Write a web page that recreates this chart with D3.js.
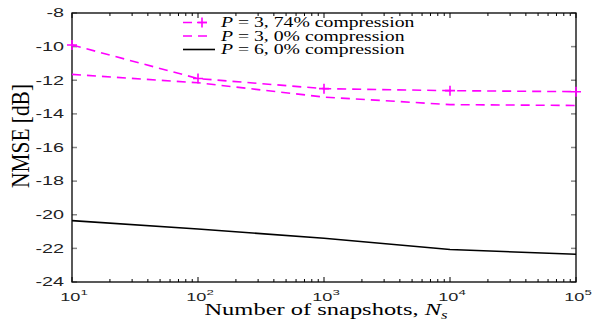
<!DOCTYPE html>
<html>
<head>
<meta charset="utf-8">
<script src="https://cdn.jsdelivr.net/npm/d3@7"></script>
<style>
body { margin: 0; background: #fff; }
</style>
</head>
<body>
<div id="chart"></div>
<script>
// data
var snapshots = [10, 100, 1000, 10000, 100000];
var p3comp = [-9.9, -11.9, -12.5, -12.62, -12.68];
var p3none = [-11.65, -12.15, -13.0, -13.45, -13.5];
var p6none = [-20.35, -20.85, -21.4, -22.07, -22.35];
var yTicks = [-8, -10, -12, -14, -16, -18, -20, -22, -24];
var legendLabels = ["3, 74% compression", "3, 0% compression", "6, 0% compression"];

var W = 602, H = 324;
var m = {left: 72, right: 26, top: 13, bottom: 42};
var sans = "Liberation Sans, Arial, sans-serif";
var serif = "Liberation Serif, Times New Roman, serif";

var svg = d3.select("#chart").append("svg").attr("width", W).attr("height", H);

var x = d3.scaleLog().domain([10, 100000]).range([m.left, W - m.right]);
var y = d3.scaleLinear().domain([-24, -8]).range([H - m.bottom, m.top]);

var x0 = m.left, x1 = W - m.right, y0 = H - m.bottom, y1 = m.top;

// minor + major x ticks, top and bottom, pointing inward
var minor = [];
for (var e = 1; e < 5; e++) {
	for (var k = 2; k < 10; k++) minor.push(k * Math.pow(10, e));
}
var g = svg.append("g");
minor.forEach(function(v) {
	g.append("line").attr("x1", x(v)).attr("x2", x(v)).attr("y1", y0).attr("y2", y0 - 3).attr("stroke", "#000");
	g.append("line").attr("x1", x(v)).attr("x2", x(v)).attr("y1", y1).attr("y2", y1 + 3).attr("stroke", "#000");
});
snapshots.forEach(function(v) {
	g.append("line").attr("x1", x(v)).attr("x2", x(v)).attr("y1", y0).attr("y2", y0 - 5).attr("stroke", "#000");
	g.append("line").attr("x1", x(v)).attr("x2", x(v)).attr("y1", y1).attr("y2", y1 + 5).attr("stroke", "#000");
});
yTicks.forEach(function(v) {
	g.append("line").attr("x1", x0).attr("x2", x0 + 5).attr("y1", y(v)).attr("y2", y(v)).attr("stroke", "#888").attr("stroke-width", 1.5);
	g.append("line").attr("x1", x1).attr("x2", x1 - 5).attr("y1", y(v)).attr("y2", y(v)).attr("stroke", "#888").attr("stroke-width", 1.5);
	// labels are drawn wide in the original, so stretch them
	g.append("text").attr("transform", "translate(" + (x0 - 8) + "," + y(v) + ") scale(1.65,1)")
		.attr("dy", "0.36em").attr("text-anchor", "end").attr("font-family", sans)
		.attr("font-size", 12).attr("fill", "#222").text(v);
});

// x tick labels 10^n
snapshots.forEach(function(v, i) {
	var t = g.append("text").attr("transform", "translate(" + (x(v) + 2) + "," + (y0 + 19) + ") scale(1.65,1)")
		.attr("text-anchor", "middle").attr("font-family", sans).attr("font-size", 11).attr("fill", "#222");
	t.append("tspan").text("10");
	t.append("tspan").attr("dy", -6).attr("font-size", 8).text(i + 1);
});

// frame
svg.append("rect").attr("x", x0).attr("y", y1).attr("width", x1 - x0).attr("height", y0 - y1)
	.attr("fill", "none").attr("stroke", "#000").attr("stroke-width", 1.3);

var line = d3.line().x(function(d, i) { return x(snapshots[i]); }).y(function(d) { return y(d); });

var series = [
	{vals: p3comp, color: "#ff00ff", dash: "9,6", marker: true},
	{vals: p3none, color: "#ff00ff", dash: "9,6", marker: false},
	{vals: p6none, color: "#000", dash: null, marker: false}
];

series.forEach(function(s) {
	svg.append("path").attr("d", line(s.vals)).attr("fill", "none").attr("stroke", s.color)
		.attr("stroke-width", 1.6).attr("stroke-dasharray", s.dash);
	if (s.marker) {
		s.vals.forEach(function(v, i) {
			var cx = x(snapshots[i]), cy = y(v);
			svg.append("path").attr("d", "M" + (cx - 5) + "," + cy + "H" + (cx + 5) + "M" + cx + "," + (cy - 5) + "V" + (cy + 5))
				.attr("stroke", s.color).attr("stroke-width", 1.6);
		});
	}
});

// legend
var lb = [27, 40.5, 54];
series.forEach(function(s, i) {
	var ly = lb[i] - 4.5;
	svg.append("line").attr("x1", 183).attr("x2", s.dash ? 211 : 215).attr("y1", ly).attr("y2", ly)
		.attr("stroke", s.color).attr("stroke-width", 1.6).attr("stroke-dasharray", s.dash);
	if (s.marker) {
		svg.append("path").attr("d", "M197," + ly + "H207M202," + (ly - 5) + "V" + (ly + 5))
			.attr("stroke", s.color).attr("stroke-width", 1.6);
	}
	var t = svg.append("text").attr("transform", "translate(221," + lb[i] + ") scale(1.36,1)")
		.attr("font-family", serif).attr("font-size", 14.5).attr("fill", "#000");
	t.append("tspan").attr("font-style", "italic").text("P");
	t.append("tspan").text(" = " + legendLabels[i]);
});

// axis labels
var xl = svg.append("text").attr("transform", "translate(326,315) scale(1.4,1)").attr("text-anchor", "middle")
	.attr("font-family", serif).attr("font-size", 17.5);
xl.append("tspan").text("Number of snapshots, ");
xl.append("tspan").attr("font-style", "italic").text("N");
xl.append("tspan").attr("font-style", "italic").attr("font-size", 12).attr("dy", 4).text("s");

svg.append("text").attr("transform", "translate(29,136) rotate(-90) scale(1,1.35)")
	.attr("text-anchor", "middle").attr("font-family", serif)
	.attr("font-size", 19).attr("textLength", 104).attr("lengthAdjust", "spacingAndGlyphs").text("NMSE [dB]");
</script>
</body>
</html>
